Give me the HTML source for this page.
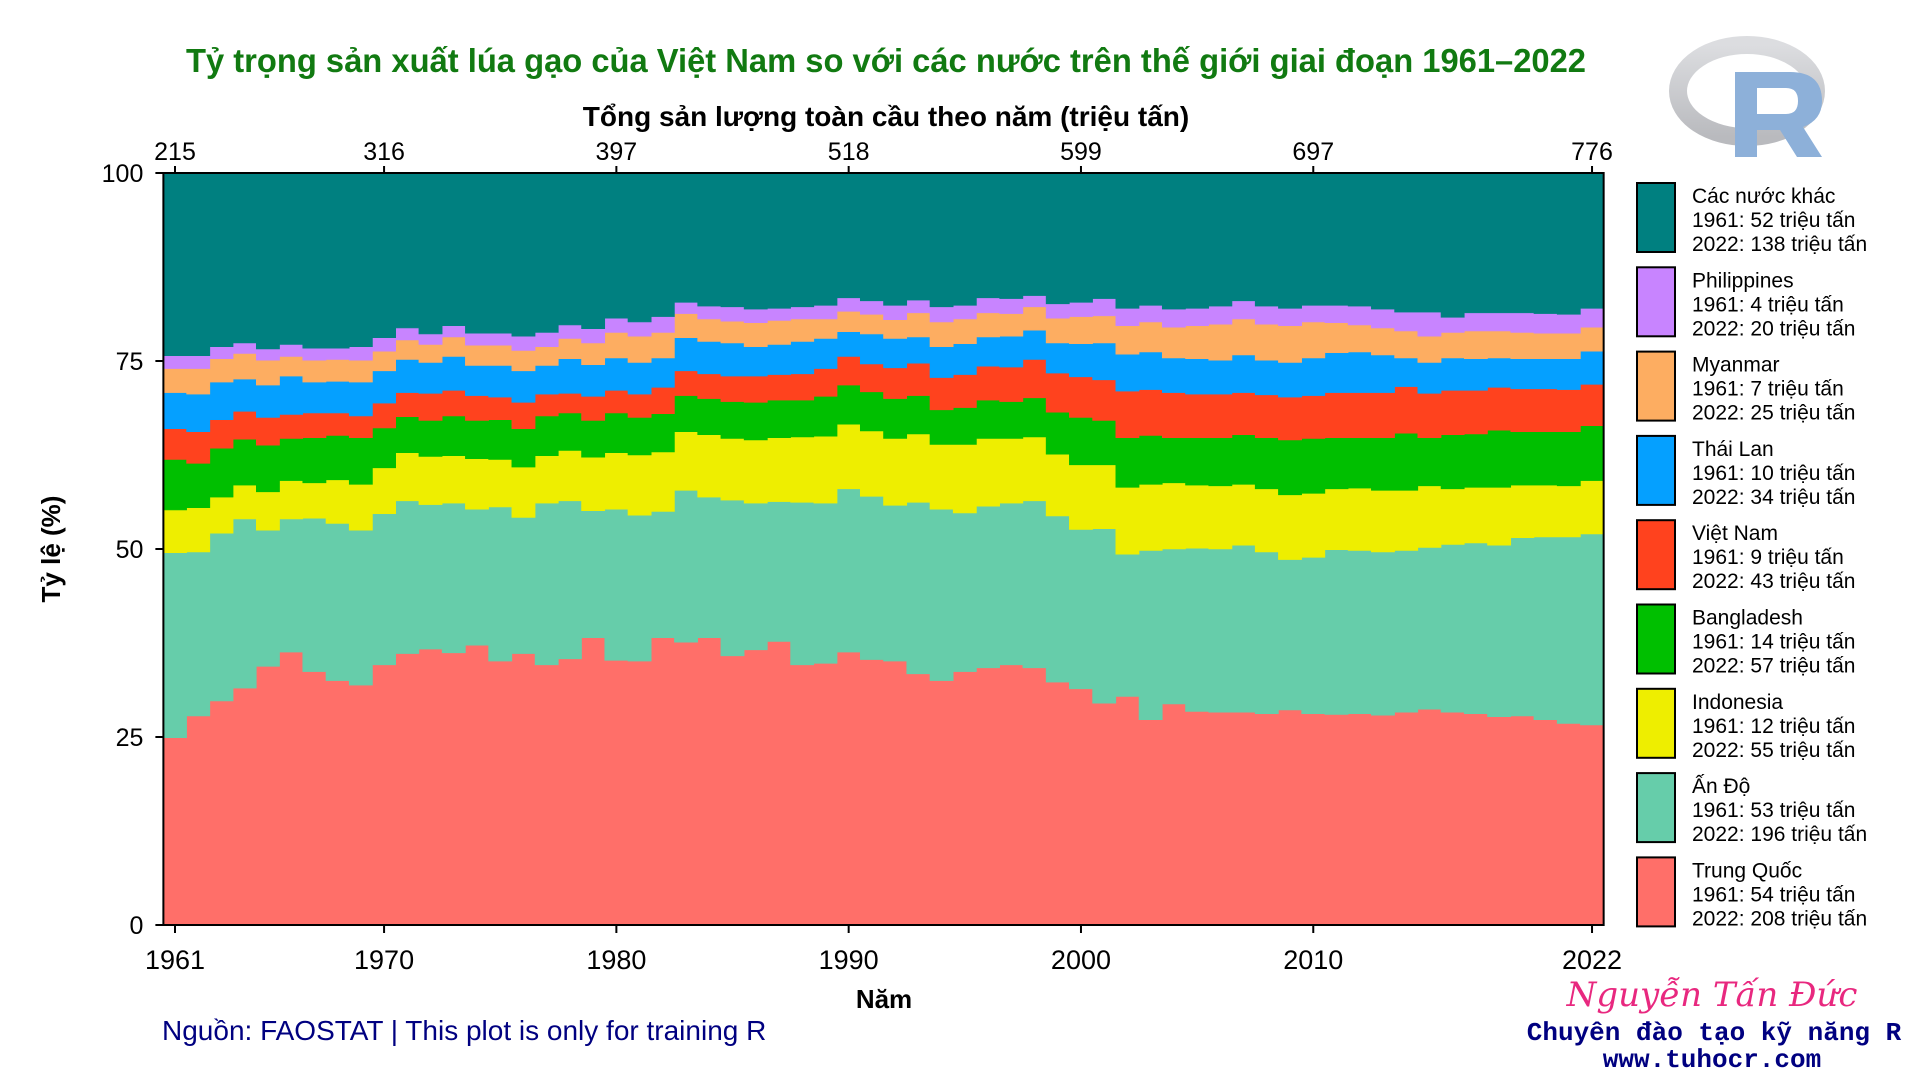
<!DOCTYPE html>
<html><head><meta charset="utf-8"><style>
html,body{margin:0;padding:0;background:#fff;}
svg{display:block;font-family:"Liberation Sans","DejaVu Sans",sans-serif;}
</style></head><body>
<svg id="chart" width="1920" height="1080" viewBox="0 0 1920 1080" xmlns="http://www.w3.org/2000/svg">
<defs><linearGradient id="ringg" x1="0" y1="0" x2="0" y2="1"><stop offset="0" stop-color="#dcdde0"/><stop offset="1" stop-color="#b9babe"/></linearGradient></defs>
<rect width="1920" height="1080" fill="#fff"/>
<text x="886" y="72" text-anchor="middle" font-size="33" font-weight="bold" fill="#117a11" textLength="1400" lengthAdjust="spacingAndGlyphs">Tỷ trọng sản xuất lúa gạo của Việt Nam so với các nước trên thế giới giai đoạn 1961–2022</text>
<text x="886" y="126" text-anchor="middle" font-size="28" font-weight="bold" fill="#000">Tổng sản lượng toàn cầu theo năm (triệu tấn)</text>
<g id="layers"></g>
<g id="axes"></g>
<text transform="translate(60,549) rotate(-90)" text-anchor="middle" font-size="26" font-weight="bold">Tỷ lệ (%)</text>
<text x="884" y="1008" text-anchor="middle" font-size="26" font-weight="bold">Năm</text>
<text x="162" y="1040" font-size="28" fill="#000080">Nguồn: FAOSTAT | This plot is only for training R</text>
<g>
<ellipse cx="1747" cy="91" rx="69" ry="46" fill="none" stroke="url(#ringg)" stroke-width="18"/>
<path d="M1735 72 H1790 Q1822 72 1822 101 Q1822 120 1803 127 L1822 157 H1797 L1780 130 H1757 V157 H1735 Z M1757 88 V114 H1786 Q1798 114 1798 101 Q1798 88 1786 88 Z" fill="#8db0d9" fill-rule="evenodd"/>
</g>
<g id="legend"></g>
<text x="1712" y="1006" text-anchor="middle" font-size="34" font-style="italic" font-family="'DejaVu Serif',serif" fill="#e8287f">Nguyễn Tấn Đức</text>
<text x="1714" y="1040" text-anchor="middle" font-size="26" font-weight="bold" font-family="'Liberation Mono',monospace" fill="#000080">Chuyên đào tạo kỹ năng R</text>
<text x="1712" y="1067" text-anchor="middle" font-size="26" font-weight="bold" font-family="'Liberation Mono',monospace" fill="#000080">www.tuhocr.com</text>
</svg>
<script>
// cumulative share (%) top boundaries, 1961..2022
const years = [];
for (let y = 1961; y <= 2022; y++) years.push(y);
const chinaTop = [24.9,27.8,29.8,31.5,34.4,36.3,33.7,32.5,31.9,34.6,36.1,36.7,36.2,37.2,35.1,36.1,34.6,35.4,38.2,35.2,35.1,38.2,37.6,38.2,35.8,36.6,37.7,34.6,34.8,36.3,35.3,
35.1,33.4,32.5,33.7,34.2,34.6,34.2,32.3,31.4,29.5,30.4,27.3,29.4,28.4,28.3,28.3,28.1,28.6,28.1,28.0,28.1,27.9,28.3,28.7,28.3,28.1,27.7,27.8,27.3,26.8,26.6];
const indiaTop = [49.5,49.6,52.1,54.0,52.5,54.0,54.1,53.4,52.5,54.7,56.4,55.9,56.1,55.3,55.6,54.2,56.1,56.4,55.1,55.3,54.5,55.0,57.8,56.9,56.5,56.1,56.3,56.2,56.1,58.0,57.0,
55.8,56.2,55.3,54.8,55.7,56.1,56.4,54.4,52.6,52.7,49.3,49.8,50.0,50.1,50.0,50.5,49.6,48.6,48.9,49.9,49.8,49.6,49.8,50.2,50.6,50.8,50.5,51.5,51.6,51.6,52.0];
const indonesiaTop = [55.2,55.5,56.9,58.5,57.6,59.1,58.8,59.2,58.6,60.8,62.8,62.3,62.4,62.0,61.9,60.9,62.4,63.1,62.2,62.8,62.5,62.9,65.6,65.2,64.7,64.5,64.8,64.9,65.0,66.6,65.7,
64.7,65.3,63.9,63.9,64.7,64.7,64.9,62.6,61.2,61.2,58.2,58.6,58.8,58.5,58.4,58.6,58.0,57.2,57.4,58.0,58.1,57.8,57.8,58.4,58.0,58.2,58.2,58.5,58.5,58.4,59.1];
const bangladeshTop = [61.9,61.4,63.4,64.6,63.8,64.7,64.8,65.1,64.8,66.1,67.6,67.1,67.7,67.1,67.2,66.0,67.7,68.1,67.1,68.1,67.5,68.0,70.4,70.0,69.6,69.5,69.8,69.8,70.3,71.8,70.9,
70.0,70.4,68.5,68.8,69.8,69.6,70.1,68.2,67.5,67.1,64.8,65.1,64.8,64.8,64.8,65.2,64.8,64.5,64.7,64.8,64.8,64.8,65.4,64.8,65.2,65.3,65.8,65.6,65.6,65.6,66.4];
const vietnamTop = [66.0,65.6,67.2,68.3,67.5,67.9,68.1,68.1,67.7,69.4,70.8,70.7,71.1,70.4,70.2,69.5,70.6,70.7,70.3,71.1,70.6,71.5,73.7,73.3,73.0,73.0,73.2,73.3,74.0,75.6,74.6,
74.1,74.7,72.8,73.2,74.3,74.2,75.2,73.4,72.9,72.5,71.0,71.2,70.8,70.6,70.6,70.8,70.5,70.2,70.4,70.8,70.8,70.8,71.6,70.7,71.1,71.1,71.5,71.3,71.3,71.2,71.9];
const thailandTop = [70.8,70.6,72.2,72.6,71.8,73.0,72.2,72.3,72.2,73.7,75.2,74.8,75.6,74.4,74.4,73.7,74.4,75.3,74.5,75.4,74.8,75.4,78.1,77.6,77.4,76.9,77.2,77.6,78.0,78.9,78.6,
78.0,78.2,76.9,77.3,78.2,78.3,79.1,77.4,77.3,77.4,75.9,76.2,75.4,75.3,75.1,75.8,75.1,74.8,75.4,76.1,76.2,75.8,75.4,74.8,75.4,75.3,75.4,75.3,75.3,75.3,76.3];
const myanmarTop = [74.0,74.0,75.3,76.0,75.1,75.6,75.1,75.2,75.1,76.3,77.8,77.2,78.2,77.1,77.1,76.4,76.9,78.0,77.4,78.8,78.3,78.8,81.3,80.6,80.3,80.1,80.4,80.6,80.6,81.6,81.2,
80.5,81.4,80.2,80.6,81.4,81.3,82.2,80.7,80.9,81.0,79.7,80.2,79.5,79.7,79.9,80.6,79.9,79.7,80.2,80.1,79.8,79.4,79.0,78.3,78.8,79.0,79.0,78.8,78.7,78.7,79.5];
const philippinesTop = [75.7,75.7,76.9,77.4,76.6,77.2,76.7,76.7,76.9,78.1,79.4,78.6,79.7,78.7,78.7,78.3,78.8,79.8,79.3,80.7,80.2,80.9,82.8,82.3,82.2,81.9,82.0,82.2,82.4,83.4,83.0,
82.4,83.1,82.2,82.4,83.4,83.3,83.7,82.6,82.8,83.3,82.0,82.4,81.9,82.0,82.3,83.0,82.3,82.0,82.4,82.4,82.3,81.9,81.5,81.5,80.8,81.4,81.4,81.4,81.3,81.2,82.0];
const othersTop = years.map(() => 100);
const bottomTickYears = [1961,1970,1980,1990,2000,2010,2022];
const topTickLabels = ["215","316","397","518","599","697","776"];
const yTicks = [0,25,50,75,100];
const seriesNames = ["Trung Quốc","Ấn Độ","Indonesia","Bangladesh","Việt Nam","Thái Lan","Myanmar","Philippines","Các nước khác"];
const val1961 = [54,53,12,14,9,10,7,4,52];
const val2022 = [208,196,55,57,43,34,25,20,138];

const NS = "http://www.w3.org/2000/svg";
const colors = ["#ff6f69","#66cdaa","#eeee00","#00bf00","#ff421e","#05a0ff","#fdad61","#c884ff","#008080"];
const slugs = ["china","india","indonesia","bangladesh","vietnam","thailand","myanmar","philippines","others"];
const x0 = 175, step = 23.23, yBase = 925, yScale = 7.52;
const xs = i => x0 + i * step;
const xYear = y => xs(y - 1961);
const ys = v => yBase - v * yScale;
const tops = [chinaTop, indiaTop, indonesiaTop, bangladeshTop, vietnamTop, thailandTop, myanmarTop, philippinesTop, othersTop];
const layers = document.getElementById("layers");
const n = years.length;
tops.forEach((top, k) => {
  const bot = k === 0 ? years.map(() => 0) : tops[k - 1];
  let d = "";
  for (let i = 0; i < n; i++) {
    const a = xs(i) - step / 2, b = xs(i) + step / 2;
    d += (i === 0 ? "M" : "L") + a.toFixed(2) + " " + ys(top[i]).toFixed(2) + " L" + b.toFixed(2) + " " + ys(top[i]).toFixed(2) + " ";
  }
  for (let i = n - 1; i >= 0; i--) {
    const a = xs(i) - step / 2, b = xs(i) + step / 2;
    d += "L" + b.toFixed(2) + " " + ys(bot[i]).toFixed(2) + " L" + a.toFixed(2) + " " + ys(bot[i]).toFixed(2) + " ";
  }
  d += "Z";
  const p = document.createElementNS(NS, "path");
  p.setAttribute("d", d);
  p.setAttribute("fill", colors[k]);
  p.setAttribute("stroke", colors[k]);
  p.setAttribute("stroke-width", "0.6");
  
  
  layers.appendChild(p);
});

const axes = document.getElementById("axes");
function el(tag, attrs, text) {
  const e = document.createElementNS(NS, tag);
  for (const k in attrs) e.setAttribute(k, attrs[k]);
  if (text !== undefined) e.textContent = text;
  axes.appendChild(e);
  return e;
}
const L = xs(0) - step / 2, R = xs(n - 1) + step / 2;
const frame = el("rect", {x: L, y: ys(100), width: R - L, height: ys(0) - ys(100), fill: "none", stroke: "#000", "stroke-width": 2});


yTicks.forEach(v => {
  const t = el("line", {x1: L - 8, x2: L, y1: ys(v), y2: ys(v), stroke: "#000", "stroke-width": 2});
  
  
  const lb = el("text", {x: L - 20, y: ys(v) + 9, "text-anchor": "end", "font-size": 25}, String(v));
  
  
});
bottomTickYears.forEach((yr, j) => {
  const x = xYear(yr);
  const t = el("line", {x1: x, x2: x, y1: ys(0), y2: ys(0) + 8, stroke: "#000", "stroke-width": 2});
  
  
  const lb = el("text", {x: x, y: 969, "text-anchor": "middle", "font-size": 27}, String(yr));
  
  
  const t2 = el("line", {x1: x, x2: x, y1: ys(100) - 7, y2: ys(100), stroke: "#000", "stroke-width": 2});
  
  
  const lb2 = el("text", {x: x, y: 160, "text-anchor": "middle", "font-size": 25}, topTickLabels[j]);
  
  
});

const legend = document.getElementById("legend");
for (let r = 0; r < 9; r++) {
  const k = 8 - r;
  const yTop = 183 + r * 84.3;
  const g = document.createElementNS(NS, "g");
  
  
  const box = document.createElementNS(NS, "rect");
  box.setAttribute("x", 1637); box.setAttribute("y", yTop);
  box.setAttribute("width", 38); box.setAttribute("height", 69);
  box.setAttribute("fill", colors[k]); box.setAttribute("stroke", "#000"); box.setAttribute("stroke-width", 2);
  
  
  g.appendChild(box);
  const lines = [seriesNames[k], "1961: " + val1961[k] + " triệu tấn", "2022: " + val2022[k] + " triệu tấn"];
  lines.forEach((s, li) => {
    const t = document.createElementNS(NS, "text");
    t.setAttribute("x", 1692); t.setAttribute("y", yTop + 20 + li * 24);
    t.setAttribute("font-size", 21);
    t.textContent = s;
    
    
    g.appendChild(t);
  });
  legend.appendChild(g);
}
</script>
</body></html>
